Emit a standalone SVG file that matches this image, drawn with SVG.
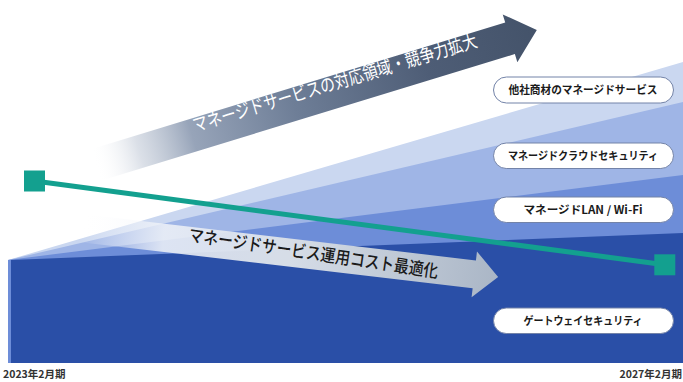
<svg xmlns="http://www.w3.org/2000/svg" width="683" height="382" viewBox="0 0 683 382">
<style>
.pill{fill:#ffffff;stroke:#7383a8;stroke-width:1}
.pt{font-family:"Noto Sans CJK JP","Noto Sans",sans-serif;font-size:11px;font-weight:bold;fill:#1a1a1a;text-anchor:middle}
.ax{font-family:"Noto Sans CJK JP","Noto Sans",sans-serif;font-size:10.5px;font-weight:bold;fill:#333333}
.sq{fill:#13a08f}
</style>
<defs>
<linearGradient id="gUp" x1="0" y1="0" x2="462" y2="0" gradientUnits="userSpaceOnUse">
<stop offset="0" stop-color="#ffffff" stop-opacity="0"/>
<stop offset="0.1" stop-color="#c3cbd8" stop-opacity="0.6"/>
<stop offset="0.22" stop-color="#97a4b9"/>
<stop offset="0.45" stop-color="#6e7e97"/>
<stop offset="0.75" stop-color="#4e5d76"/>
<stop offset="1" stop-color="#44536a"/>
</linearGradient>
<linearGradient id="gLo" x1="0" y1="0" x2="421" y2="0" gradientUnits="userSpaceOnUse">
<stop offset="0" stop-color="#ffffff" stop-opacity="0"/>
<stop offset="0.2" stop-color="#f0f3f8" stop-opacity="0.85"/>
<stop offset="0.5" stop-color="#d6dde7"/>
<stop offset="1" stop-color="#aab6c6"/>
</linearGradient>
</defs>
<rect width="683" height="382" fill="#ffffff"/>
<g id="layers">
<polygon points="8,260 683,62 683,363 8,363" fill="#cad7f0"/>
<polygon points="8,260 683,102 683,363 8,363" fill="#9fb5e6"/>
<polygon points="8,260 683,175 683,363 8,363" fill="#6d8dd8"/>
<polygon points="11,260 683,233 683,363 11,363" fill="#2a4fa7"/>
</g>
<g id="arrow-cost">
<g transform="translate(80,228) rotate(6.7)">
<polygon points="0,-14 397,-14 397,-23 421,0 397,23 397,14 0,14" fill="url(#gLo)"/>
</g>
<text x="188" y="241" transform="rotate(8.4 188 241)" textLength="252" lengthAdjust="spacingAndGlyphs" font-family="'Noto Sans CJK JP','Noto Sans',sans-serif" font-size="17.5" font-weight="500" fill="#1a1a1a">マネージドサービス運用コスト最適化</text>
</g>
<g id="arrow-scope">
<g transform="translate(95,165.2) rotate(-17)">
<polygon points="0,-16.5 434,-16.5 434,-25 462,0 434,25 434,16.5 0,16.5" fill="url(#gUp)"/>
</g>
<text x="195" y="132" transform="rotate(-16.8 195 132)" textLength="296" lengthAdjust="spacingAndGlyphs" font-family="'Noto Sans CJK JP','Noto Sans',sans-serif" font-size="18.5" fill="#ffffff">マネージドサービスの対応領域・競争力拡大</text>
</g>
<g id="connectors">
<line x1="34.5" y1="181" x2="664.7" y2="264.7" stroke="#13a08f" stroke-width="5"/>
</g>
<g id="marker-start"><rect class="sq" x="24" y="170.5" width="21" height="21"/></g>
<g id="marker-end"><rect class="sq" x="654.3" y="254.3" width="21" height="21"/></g>
<g id="pill-other">
<rect class="pill" x="493.5" y="77" width="180" height="26" rx="13"/>
<text class="pt" x="583" y="94" textLength="149" lengthAdjust="spacingAndGlyphs">他社商材のマネージドサービス</text>
</g>
<g id="pill-cloud">
<rect class="pill" x="493.5" y="143" width="180" height="25.5" rx="12.75"/>
<text class="pt" x="583" y="159.8" textLength="150" lengthAdjust="spacingAndGlyphs">マネージドクラウドセキュリティ</text>
</g>
<g id="pill-lan">
<rect class="pill" x="493.5" y="197" width="180" height="25.5" rx="12.75"/>
<text class="pt" x="583" y="213.8" textLength="119" lengthAdjust="spacingAndGlyphs">マネージドLAN / Wi-Fi</text>
</g>
<g id="pill-gw">
<rect class="pill" x="493.5" y="308" width="180" height="25.5" rx="12.75"/>
<text class="pt" x="583" y="324.8" textLength="119" lengthAdjust="spacingAndGlyphs">ゲートウェイセキュリティ</text>
</g>
<g id="axis">
<text class="ax" x="3" y="378">2023年2月期</text>
<text class="ax" x="682" y="378" text-anchor="end">2027年2月期</text>
</g>
</svg>
